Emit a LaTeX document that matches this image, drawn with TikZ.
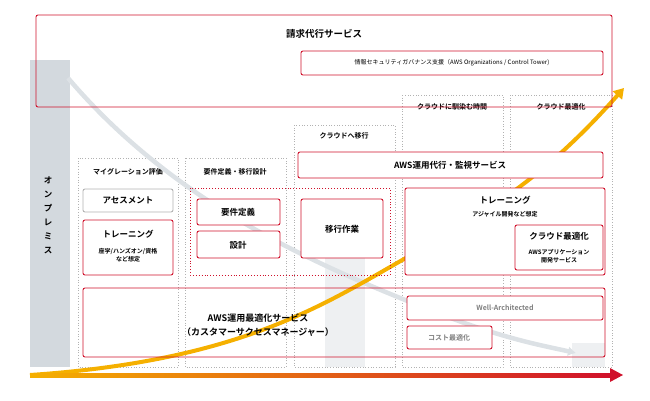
\documentclass[tikz,border=0pt]{standalone}
\usepackage{fontspec}
\setmainfont{Noto Sans CJK JP}[BoldFont={Noto Sans CJK JP Bold}]
\usetikzlibrary{positioning,arrows.meta}
\definecolor{awsred}{HTML}{D0112B}
\definecolor{onpre}{HTML}{D3D9DE}
\definecolor{barg}{HTML}{EEF0F2}
\definecolor{curveo}{HTML}{F5B000}
\definecolor{curveg}{HTML}{DCE1E5}
\tikzset{
  svc/.style={draw=awsred, line width=0.9pt, rounded corners=2pt, fill=white},
  graysvc/.style={draw=gray!60, line width=0.9pt, rounded corners=2pt, fill=white},
  col/.style={draw=gray!60, dotted, line width=0.7pt},
  hdr/.style={font=\bfseries\fontsize{7}{8}\selectfont},
  lbl/.style={font=\bfseries\fontsize{8.5}{10}\selectfont, align=center},
  sub/.style={font=\bfseries\fontsize{6}{7.5}\selectfont, align=center},
}
\begin{document}
\begin{tikzpicture}[x=1pt,y=-1pt]
\useasboundingbox (0,0) rectangle (650,400);
% on-premise bar and light bars
\fill[onpre] (30,60) rectangle (70,367);
\fill[barg] (325,258) rectangle (365,367);
\fill[barg] (572,343) rectangle (605,367);
\node[lbl] (onp) at (48,215) {オ\\[4pt]ン\\[4pt]プ\\[4pt]レ\\[4pt]ミ\\[4pt]ス};
% columns
\draw[col] (78,158) rectangle (178,367);
\draw[col] (185,158) rectangle (286,367);
\draw[col] (294,125) rectangle (395,367);
\draw[col] (402,95) rectangle (503,367);
\draw[col] (510,95) rectangle (612,367);
\node[hdr] (h1) at (128,172) {マイグレーション評価};
\node[hdr] (h2) at (235,172) {要件定義・移行設計};
\node[hdr] (h3) at (344,136) {クラウドへ移行};
\node[hdr] (h4) at (452,107) {クラウドに馴染む時間};
\node[hdr] (h5) at (561,107) {クラウド最適化};
% curves
\coordinate (gs) at (68,78);
\coordinate (ge) at (576,353);
\draw[curveg, line width=4.5pt, -{Latex[length=8pt,width=10pt]}] (gs) .. controls (180,210) and (330,270) .. (430,310) .. controls (500,338) and (540,345) .. (ge);
\coordinate (os) at (30,375);
\coordinate (oe) at (624,88);
\draw[curveo, line width=4pt, -{Triangle[length=10pt,width=12pt]}] (os) .. controls (250,360) and (330,300) .. (420,250) .. controls (510,200) and (560,160) .. (oe);
% axis
\shade[left color=curveo, right color=awsred] (30,373) rectangle (612,377);
\fill[awsred] (610,368) -- (623,375) -- (610,382) -- cycle;
% boxes
\draw[svc, fill=none] (36,15) rectangle (612,107);
\node[lbl, font=\bfseries\fontsize{9.5}{11}\selectfont] (bill) at (324,34) {請求代行サービス};
\draw[svc] (301,51) rectangle (603,75);
\node[sub, font=\fontsize{6}{7}\selectfont] (sec) at (452,63) {情報セキュリティガバナンス支援（AWS Organizations / Control Tower)};
\draw[svc] (298,152) rectangle (603,178);
\node[lbl] (ops) at (450,165) {AWS運用代行・監視サービス};
\draw[graysvc] (83,189) rectangle (173,212);
\node[lbl] (asm) at (128,200) {アセスメント};
\draw[svc] (83,220) rectangle (173,275);
\node[lbl] (tr1) at (128,234) {トレーニング};
\node[sub] (tr1s) at (128,255) {座学/ハンズオン/資格\\など想定};
\draw[awsred, dotted, line width=0.9pt] (190,188) rectangle (390,275);
\draw[svc] (197,199) rectangle (280,225);
\node[lbl] (req) at (238,212) {要件定義};
\draw[svc] (197,231) rectangle (280,258);
\node[lbl] (dsn) at (238,245) {設計};
\draw[svc] (301,199) rectangle (383,258);
\node[lbl] (mig) at (342,229) {移行作業};
\draw[svc] (405,188) rectangle (605,275);
\node[lbl] (tr2) at (505,200) {トレーニング};
\node[sub] (tr2s) at (505,214) {アジャイル開発など想定};
\draw[svc] (515,225) rectangle (603,270);
\node[lbl] (opt) at (559,236) {クラウド最適化};
\node[sub] (opts) at (559,256) {AWSアプリケーション\\開発サービス};
\draw[svc, fill=none] (83,288) rectangle (605,357);
\node[lbl, font=\bfseries\fontsize{9}{14}\selectfont] (cs) at (258,325) {AWS運用最適化サービス\\（カスタマーサクセスマネージャー）};
\draw[svc] (407,296) rectangle (603,320);
\node[sub, text=gray, font=\bfseries\fontsize{7}{8}\selectfont] (wa) at (505,308) {Well-Architected};
\draw[svc] (407,326) rectangle (492,349);
\node[sub, text=gray, font=\bfseries\fontsize{7}{8}\selectfont] (cost) at (449,338) {コスト最適化};
\end{tikzpicture}
\end{document}
